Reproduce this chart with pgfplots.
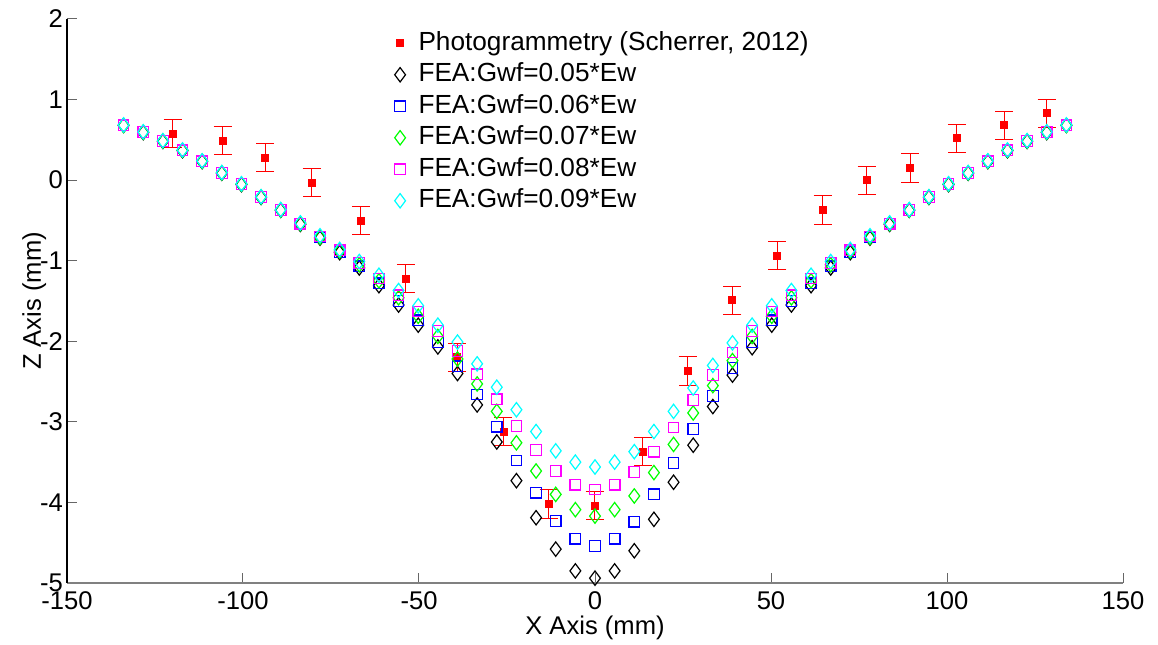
\documentclass[border=0pt]{standalone}
\usepackage{fontspec}
\setmainfont{Liberation Sans}
\usepackage{pgfplots}
\pgfplotsset{compat=1.18}
\usepackage{pgfplotstable}
\definecolor{mred}{rgb}{1,0,0}
\definecolor{mblue}{rgb}{0,0,1}
\definecolor{mgreen}{rgb}{0,1,0}
\definecolor{mmag}{rgb}{1,0,1}
\definecolor{mcyan}{rgb}{0,1,1}

\pgfplotstableread{
x b u g m c
-133.92 0.68 0.68 0.68 0.68 0.685
-128.34 0.59 0.595 0.595 0.595 0.60
-122.76 0.48 0.485 0.485 0.485 0.49
-117.18 0.365 0.37 0.37 0.37 0.375
-111.60 0.23 0.235 0.235 0.235 0.24
-106.02 0.085 0.09 0.09 0.09 0.095
-100.44 -0.055 -0.05 -0.05 -0.05 -0.045
-94.86 -0.215 -0.21 -0.21 -0.21 -0.205
-89.28 -0.375 -0.37 -0.37 -0.37 -0.365
-83.70 -0.55 -0.545 -0.54 -0.54 -0.53
-78.12 -0.72 -0.71 -0.71 -0.70 -0.69
-72.54 -0.90 -0.89 -0.88 -0.87 -0.86
-66.96 -1.09 -1.07 -1.05 -1.03 -1.01
-61.38 -1.31 -1.28 -1.25 -1.22 -1.18
-55.80 -1.55 -1.50 -1.46 -1.43 -1.37
-50.22 -1.80 -1.74 -1.69 -1.63 -1.56
-44.64 -2.07 -2.01 -1.94 -1.87 -1.80
-39.06 -2.40 -2.31 -2.22 -2.12 -2.01
-33.48 -2.79 -2.66 -2.53 -2.41 -2.28
-27.90 -3.25 -3.06 -2.87 -2.72 -2.57
-22.32 -3.73 -3.48 -3.26 -3.05 -2.85
-16.74 -4.19 -3.88 -3.61 -3.35 -3.12
-11.16 -4.58 -4.23 -3.90 -3.61 -3.36
-5.58 -4.85 -4.45 -4.09 -3.78 -3.50
0 -4.94 -4.54 -4.17 -3.84 -3.56
5.58 -4.85 -4.45 -4.09 -3.78 -3.50
11.16 -4.60 -4.24 -3.92 -3.62 -3.37
16.74 -4.21 -3.90 -3.63 -3.37 -3.12
22.32 -3.75 -3.51 -3.28 -3.07 -2.87
27.90 -3.29 -3.09 -2.89 -2.73 -2.58
33.48 -2.81 -2.68 -2.55 -2.42 -2.30
39.06 -2.42 -2.33 -2.24 -2.14 -2.02
44.64 -2.08 -2.01 -1.94 -1.87 -1.80
50.22 -1.80 -1.74 -1.69 -1.63 -1.56
55.80 -1.55 -1.50 -1.46 -1.43 -1.37
61.38 -1.31 -1.28 -1.25 -1.22 -1.18
66.96 -1.09 -1.07 -1.05 -1.03 -1.01
72.54 -0.90 -0.89 -0.88 -0.87 -0.86
78.12 -0.72 -0.71 -0.71 -0.70 -0.69
83.70 -0.55 -0.545 -0.54 -0.54 -0.53
89.28 -0.375 -0.37 -0.37 -0.37 -0.365
94.86 -0.215 -0.21 -0.21 -0.21 -0.205
100.44 -0.055 -0.05 -0.05 -0.05 -0.045
106.02 0.085 0.09 0.09 0.09 0.095
111.60 0.23 0.235 0.235 0.235 0.24
117.18 0.365 0.37 0.37 0.37 0.375
122.76 0.48 0.485 0.485 0.485 0.49
128.34 0.59 0.595 0.595 0.595 0.60
133.92 0.68 0.68 0.68 0.68 0.685
}\fea

\pgfplotstableread{
x y e
-120.0 0.58 0.175
-105.8 0.49 0.175
-93.7 0.28 0.175
-80.5 -0.03 0.175
-66.5 -0.50 0.175
-53.7 -1.22 0.175
-39.2 -2.20 0.175
-26.0 -3.12 0.175
-13.2 -4.02 0.175
-0.1 -4.04 0.175
13.6 -3.37 0.175
26.3 -2.37 0.175
39.0 -1.49 0.175
51.8 -0.94 0.175
64.7 -0.37 0.175
77.2 0.00 0.175
89.5 0.15 0.175
102.8 0.52 0.175
116.2 0.68 0.175
128.3 0.83 0.175
}\photo

\begin{document}
\begin{tikzpicture}
\begin{axis}[
  name=ax, at={(0pt,0pt)}, anchor=south west,
  scale only axis, width=528pt, height=282pt,
  xmin=-150, xmax=150, ymin=-5, ymax=2,
  axis lines*=left, axis line style={-},
  x axis line style={black!50, line width=0.6pt},
  y axis line style={black, line width=0.6pt},
  xtick={-150,-100,...,150}, ytick={-5,-4,...,2},
  tick align=inside, major tick length=5pt,
  tick style={black!60, line width=0.5pt},
  /pgf/number format/assume math mode=true,
  ticklabel style={font=\fontsize{12.8}{15}\selectfont},
  label style={font=\fontsize{12.8}{15}\selectfont},
  xticklabel style={yshift=-1pt},
  yticklabel style={xshift=1.5pt},
  xlabel={X Axis (mm)}, ylabel={Z Axis (mm)},
  xlabel style={at={(axis description cs:0.5,-0.080)}, anchor=center},
  ylabel style={at={(axis description cs:-0.031,0.5)}, anchor=center},
  clip=false,
  legend cell align=left,
  legend image code/.code={\draw[mark repeat=2,mark phase=2,#1] plot coordinates {(-8pt,0pt)(0pt,0pt)(8pt,0pt)};},
  legend style={draw=none, fill=none, inner sep=0pt, outer sep=0pt,
    font=\fontsize{13.1}{15}\selectfont,
    nodes={inner sep=0pt, inner xsep=1pt, text height=10pt, text depth=3pt},
    /tikz/every odd column/.append style={column sep=5.5pt},
    row sep=2.75pt,
    at={(axis cs:-56.9,1.86)}, anchor=north west},
]
\addplot[only marks, mark=square*, mark size=1.75pt, color=mred,
  error bars/.cd, y dir=both, y explicit,
  error bar style={mred, line width=0.5pt},
  error mark options={rotate=90, mred, mark size=4.5pt, line width=0.5pt}]
  table[x=x, y=y, y error=e]{\photo};
\addlegendentry{Photogrammetry (Scherrer, 2012)}
\addplot[only marks, mark=diamond, mark size=3.6pt, color=black, mark options={line width=0.6pt}]
  table[x=x, y=b]{\fea};
\addlegendentry{FEA:Gwf=0.05*Ew}
\addplot[only marks, mark=square, mark size=2.65pt, color=mblue, mark options={line width=0.6pt}]
  table[x=x, y=u]{\fea};
\addlegendentry{FEA:Gwf=0.06*Ew}
\addplot[only marks, mark=diamond, mark size=3.6pt, color=mgreen, mark options={line width=0.6pt}]
  table[x=x, y=g]{\fea};
\addlegendentry{FEA:Gwf=0.07*Ew}
\addplot[only marks, mark=square, mark size=2.65pt, color=mmag, mark options={line width=0.6pt}]
  table[x=x, y=m]{\fea};
\addlegendentry{FEA:Gwf=0.08*Ew}
\addplot[only marks, mark=diamond, mark size=3.6pt, color=mcyan, mark options={line width=0.6pt}]
  table[x=x, y=c]{\fea};
\addlegendentry{FEA:Gwf=0.09*Ew}
\end{axis}
\pgfresetboundingbox
\path ([shift={(-33.5pt,-31pt)}]ax.south west) rectangle ([shift={(17.5pt,9.5pt)}]ax.north east);
\end{tikzpicture}
\end{document}
